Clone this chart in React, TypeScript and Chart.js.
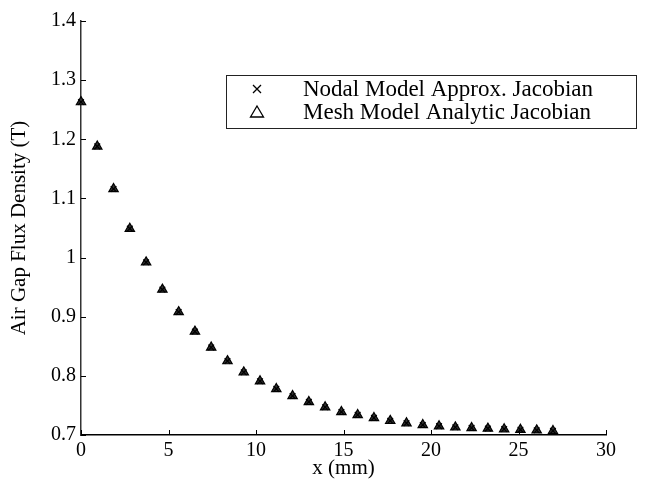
import React, { useEffect, useRef } from 'react';
import { Chart, registerables } from 'chart.js';

Chart.register(...registerables);

// x position along the air gap (mm)
const xPositions = [
  0, 0.93, 1.86, 2.79, 3.72, 4.65, 5.58, 6.51, 7.44, 8.37,
  9.3, 10.23, 11.16, 12.09, 13.02, 13.95, 14.88, 15.81, 16.74, 17.67,
  18.6, 19.53, 20.46, 21.39, 22.32, 23.25, 24.18, 25.11, 26.04, 26.97,
];

// Air gap flux density (T)
const nodalFlux = [
  1.263, 1.188, 1.116, 1.049, 0.992, 0.946, 0.908, 0.875, 0.848, 0.825,
  0.806, 0.791, 0.778, 0.766, 0.756, 0.747, 0.739, 0.734, 0.729, 0.724,
  0.720, 0.717, 0.715, 0.713, 0.712, 0.711, 0.710, 0.709, 0.708, 0.707,
];
const meshFlux = [
  1.263, 1.188, 1.116, 1.049, 0.992, 0.946, 0.908, 0.875, 0.848, 0.825,
  0.806, 0.791, 0.778, 0.766, 0.756, 0.747, 0.739, 0.734, 0.729, 0.724,
  0.720, 0.717, 0.715, 0.713, 0.712, 0.711, 0.710, 0.709, 0.708, 0.707,
];

const seriesLabels = ['Nodal Model Approx. Jacobian', 'Mesh Model Analytic Jacobian'];
const xAxisTitle = 'x (mm)';
const yAxisTitle = 'Air Gap Flux Density (T)';
const xRange = [0, 30];
const xStep = 5;
const yRange = [0.7, 1.4];
const yStep = 0.1;

const FONT = '"Liberation Serif", "Times New Roman", serif';

const inwardTicks = {
  id: 'inwardTicks',
  afterDraw(chart: any) {
    const { ctx, chartArea, scales } = chart;
    const xs = scales.x;
    const ys = scales.y;
    ctx.save();
    ctx.strokeStyle = '#000';
    ctx.lineWidth = 1;
    xs.ticks.forEach((t: any) => {
      const px = Math.round(xs.getPixelForValue(t.value)) + 0.5;
      ctx.beginPath();
      ctx.moveTo(px, chartArea.bottom);
      ctx.lineTo(px, chartArea.bottom - 5);
      ctx.stroke();
    });
    ys.ticks.forEach((t: any) => {
      const py = Math.round(ys.getPixelForValue(t.value)) + 0.5;
      ctx.beginPath();
      ctx.moveTo(chartArea.left, py);
      ctx.lineTo(chartArea.left + 5, py);
      ctx.stroke();
    });
    ctx.restore();
  },
};

const boxLegend = {
  id: 'boxLegend',
  afterDraw(chart: any) {
    const { ctx } = chart;
    const left = 226;
    const top = 75;
    const w = 410;
    const h = 53;
    ctx.save();
    ctx.fillStyle = '#fff';
    ctx.fillRect(left, top, w, h);
    ctx.strokeStyle = '#222';
    ctx.lineWidth = 1;
    ctx.strokeRect(left + 0.5, top + 0.5, w, h);
    ctx.font = `23px ${FONT}`;
    ctx.textBaseline = 'middle';
    ctx.textAlign = 'left';
    ctx.fillStyle = '#000';
    const mx = 257;
    seriesLabels.forEach((label, i) => {
      const y = top + 14 + i * 23;
      ctx.strokeStyle = '#000';
      ctx.lineWidth = 1.3;
      ctx.beginPath();
      if (i === 0) {
        const r = 4;
        ctx.moveTo(mx - r, y - r);
        ctx.lineTo(mx + r, y + r);
        ctx.moveTo(mx + r, y - r);
        ctx.lineTo(mx - r, y + r);
      } else {
        ctx.moveTo(mx, y - 6);
        ctx.lineTo(mx + 6.5, y + 5);
        ctx.lineTo(mx - 6.5, y + 5);
        ctx.closePath();
      }
      ctx.stroke();
      ctx.fillText(label, 303, y + 1);
    });
    ctx.restore();
  },
};

export default function App() {
  const canvasRef = useRef<HTMLCanvasElement | null>(null);

  useEffect(() => {
    if (!canvasRef.current) return;
    const chart = new Chart(canvasRef.current, {
      type: 'scatter',
      data: {
        datasets: [
          {
            label: seriesLabels[0],
            data: xPositions.map((x, i) => ({ x, y: nodalFlux[i] })),
            pointStyle: 'crossRot',
            pointRadius: 4,
            pointBorderWidth: 1.3,
            borderColor: '#000',
            backgroundColor: '#000',
            clip: false,
            order: 0,
          } as any,
          {
            label: seriesLabels[1],
            data: xPositions.map((x, i) => ({ x, y: meshFlux[i] })),
            pointStyle: 'triangle',
            pointRadius: 5.4,
            pointBorderWidth: 1.2,
            borderColor: '#000',
            backgroundColor: '#333',
            clip: false,
            order: 1,
          } as any,
        ],
      },
      options: {
        responsive: false,
        animation: false,
        events: [],
        layout: { padding: { top: 21, right: 48, bottom: 0, left: 0 } },
        plugins: {
          legend: { display: false },
          tooltip: { enabled: false },
        },
        scales: {
          x: {
            type: 'linear',
            min: xRange[0],
            max: xRange[1],
            afterFit: (s: any) => { s.height = 52; },
            ticks: {
              stepSize: xStep,
              color: '#000',
              padding: 4,
              maxRotation: 0,
              font: { family: FONT, size: 20 },
            },
            grid: { display: false, drawTicks: false },
            border: { display: true, color: '#000', width: 1.5 },
            title: {
              display: true,
              text: xAxisTitle,
              color: '#000',
              padding: { top: 0, bottom: 6 },
              font: { family: FONT, size: 21 },
            },
          },
          y: {
            type: 'linear',
            min: yRange[0],
            max: yRange[1],
            afterFit: (s: any) => { s.width = 81; },
            ticks: {
              stepSize: yStep,
              color: '#000',
              padding: 5,
              font: { family: FONT, size: 20 },
              callback: (v: any) => String(Number(Number(v).toFixed(1))),
            },
            grid: { display: false, drawTicks: false },
            border: { display: true, color: '#333', width: 1.5 },
            title: {
              display: true,
              text: yAxisTitle,
              color: '#000',
              padding: { top: 7, bottom: 0 },
              font: { family: FONT, size: 21 },
            },
          },
        },
      },
      plugins: [inwardTicks, boxLegend],
    });
    return () => chart.destroy();
  }, []);

  return (
    <div style={{ position: 'absolute', left: 0, top: 0, width: 654, height: 487, background: '#fff' }}>
      <canvas ref={canvasRef} width={654} height={487} />
    </div>
  );
}
